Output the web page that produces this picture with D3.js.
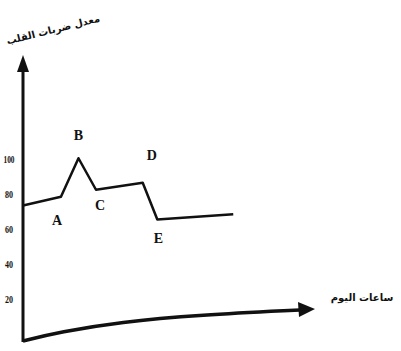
<!DOCTYPE html>
<html>
<head>
<meta charset="utf-8">
<script src="https://cdn.jsdelivr.net/npm/d3@7"></script>
<style>
body { margin:0; background:#fff; }
svg { display:block; }
</style>
</head>
<body>
<svg id="chart" width="401" height="351"></svg>
<script>
// heart rate over the hours of the day
var hours = [0, 13, 19, 25, 41, 46, 72];
var rate = [74, 79, 101, 83, 87, 66, 69];
var pointNames = ["", "A", "B", "C", "D", "E", ""];
var nameOffsets = [[0,0],[-4,28],[0,-18],[4,20],[9,-23],[1,23],[0,0]];
var yTicks = [20, 40, 60, 80, 100];
var yTitle = "معدل ضربات القلب";
var xTitle = "ساعات اليوم";

var svg = d3.select("#chart");
var x = d3.scaleLinear().domain([0, 100]).range([23, 315]);
var y = d3.scaleLinear().domain([0, 100]).range([335, 160]);

// y axis with arrow
svg.append("line")
  .attr("x1", 23).attr("y1", 342)
  .attr("x2", 23).attr("y2", 70)
  .attr("stroke", "#111").attr("stroke-width", 3);
svg.append("path")
  .attr("d", "M23,55 L17,72 L29,72 Z")
  .attr("fill", "#111");

// x axis (slightly bent as in the scan)
var xAxisPts = [[23,341],[60,332],[120,322],[200,315],[300,310]];
svg.append("path")
  .attr("d", d3.line().curve(d3.curveBasis)(xAxisPts))
  .attr("fill", "none").attr("stroke", "#111").attr("stroke-width", 3.5);
svg.append("path")
  .attr("d", "M315,309 L298,302 L299,317 Z")
  .attr("fill", "#111");

// tick labels
svg.selectAll(".tick")
  .data(yTicks)
  .join("text")
  .attr("class", "tick")
  .attr("x", 9)
  .attr("y", function(d) { return y(d) + 3; })
  .attr("text-anchor", "middle")
  .attr("font-family", "Liberation Serif")
  .attr("font-weight", "bold")
  .attr("font-size", 10)
  .attr("textLength", function(d) { return d >= 100 ? 11 : 8; })
  .attr("lengthAdjust", "spacingAndGlyphs")
  .attr("fill", "#111")
  .text(function(d) { return d; });

// data line
var pts = hours.map(function(h, i) { return [x(h), y(rate[i])]; });
svg.append("path")
  .attr("d", d3.line()(pts))
  .attr("fill", "none").attr("stroke", "#111")
  .attr("stroke-width", 2.5).attr("stroke-linejoin", "round");

svg.selectAll(".pname")
  .data(pts)
  .join("text")
  .attr("class", "pname")
  .attr("x", function(d, i) { return d[0] + nameOffsets[i][0]; })
  .attr("y", function(d, i) { return d[1] + nameOffsets[i][1]; })
  .attr("text-anchor", "middle")
  .attr("font-family", "Liberation Serif")
  .attr("font-weight", "bold")
  .attr("font-size", 14)
  .attr("fill", "#111")
  .text(function(d, i) { return pointNames[i]; });

// titles
svg.append("text")
  .attr("transform", "translate(54,33) rotate(-14)")
  .attr("text-anchor", "middle")
  .attr("font-family", "DejaVu Sans")
  .attr("font-weight", "bold")
  .attr("font-size", 10)
  .attr("fill", "#111")
  .text(yTitle);

svg.append("text")
  .attr("x", 362).attr("y", 301)
  .attr("text-anchor", "middle")
  .attr("font-family", "DejaVu Sans")
  .attr("font-weight", "bold")
  .attr("font-size", 10)
  .attr("fill", "#111")
  .text(xTitle);
</script>
</body>
</html>
